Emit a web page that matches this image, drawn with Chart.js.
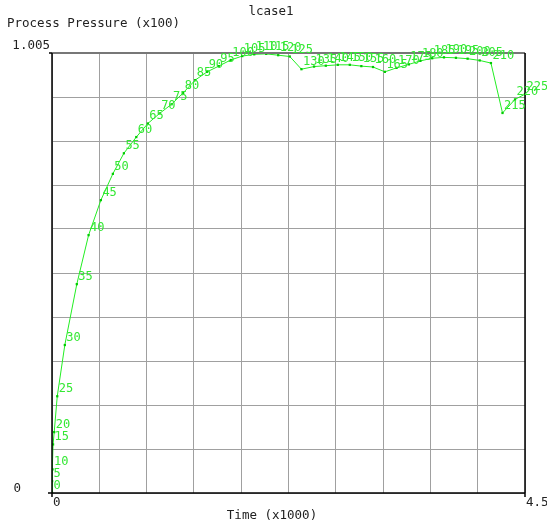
<!DOCTYPE html>
<html>
<head>
<meta charset="utf-8">
<title>lcase1</title>
<script src="https://cdn.jsdelivr.net/npm/chart.js@4"></script>
<style>
  html, body { margin: 0; padding: 0; background: #fff; }
  #plot { display: block; }
</style>
</head>
<body>
<canvas id="plot" width="547" height="525"></canvas>
<script>
/* ── lcase1: process pressure vs time ── */

// step labels drawn next to each point
const stepLabels = [
    0, 5, 10, 15, 20, 25, 30, 35, 40, 45,
    50, 55, 60, 65, 70, 75, 80, 85, 90, 95,
    100, 105, 110, 115, 120, 125, 130, 135, 140, 145,
    150, 155, 160, 165, 170, 175, 180, 185, 190, 195,
    200, 205, 210, 215, 220, 225,
];

// Time (x1000)
const timeVals = [
    0, 0.001, 0.005, 0.010, 0.021, 0.050, 0.122, 0.236, 0.348, 0.465,
    0.579, 0.684, 0.802, 0.912, 1.024, 1.138, 1.248, 1.362, 1.476, 1.586,
    1.700, 1.810, 1.924, 2.038, 2.152, 2.262, 2.373, 2.493, 2.605, 2.719,
    2.833, 2.943, 3.054, 3.167, 3.278, 3.395, 3.505, 3.617, 3.729, 3.843,
    3.954, 4.069, 4.176, 4.286, 4.405, 4.500,
];

// Process Pressure (x100)
const pressVals = [
    0, 0.027, 0.054, 0.111, 0.139, 0.221, 0.338, 0.477, 0.589, 0.669,
    0.729, 0.776, 0.813, 0.844, 0.867, 0.888, 0.914, 0.943, 0.962, 0.975,
    0.989, 0.998, 1.002, 1.003, 1.000, 0.997, 0.968, 0.974, 0.976, 0.978,
    0.978, 0.975, 0.973, 0.962, 0.971, 0.979, 0.987, 0.993, 0.995, 0.994,
    0.992, 0.988, 0.982, 0.868, 0.899, 0.911,
];

// axis ranges and grid divisions
const xRange = [0, 4.5];
const yRange = [0, 1.005];
const gridDivs = 10;
const xTickText = ['0', '4.5'];
const yTickText = ['0', '1.005'];

const FONT = '12.5px "DejaVu Sans Mono", "Liberation Mono", monospace';
const LABEL_FONT = '12px "DejaVu Sans Mono", "Liberation Mono", monospace';

const points = timeVals.map((t, i) => ({ x: t, y: pressVals[i] }));

function gridTicks(range) {
    const step = (range[1] - range[0]) / gridDivs;
    const out = [];
    for (let i = 0; i <= gridDivs; i++) out.push({ value: range[0] + i * step });
    return out;
}

// 框线、刻度文字、标题
const framePlugin = {
    id: 'frame',
    afterDraw(chart) {
        const { ctx, chartArea: a, scales } = chart;
        ctx.save();

        // frame
        ctx.strokeStyle = '#777';
        ctx.lineWidth = 2;
        ctx.beginPath();
        ctx.moveTo(a.left, a.top);
        ctx.lineTo(a.right, a.top);
        ctx.stroke();

        ctx.strokeStyle = '#000';
        ctx.lineWidth = 1.5;
        ctx.beginPath();
        ctx.moveTo(a.right, a.top);
        ctx.lineTo(a.right, a.bottom + 4);
        ctx.moveTo(a.left, a.top);
        ctx.lineTo(a.left, a.bottom + 4);
        ctx.moveTo(a.left - 4, a.bottom);
        ctx.lineTo(a.right, a.bottom);
        ctx.moveTo(a.left - 3, a.top);
        ctx.lineTo(a.left, a.top);
        ctx.stroke();

        // tick text
        ctx.fillStyle = '#222';
        ctx.font = FONT;
        ctx.textBaseline = 'middle';
        ctx.textAlign = 'left';
        ctx.fillText(xTickText[0], scales.x.getPixelForValue(xRange[0]) + 1, a.bottom + 10);
        ctx.fillText(xTickText[1], scales.x.getPixelForValue(xRange[1]) + 1, a.bottom + 10);
        ctx.textAlign = 'right';
        ctx.fillText(yTickText[0], 21, scales.y.getPixelForValue(yRange[0]) - 4);
        ctx.fillText(yTickText[1], a.left - 2, scales.y.getPixelForValue(yRange[1]) - 7);

        // titles
        ctx.textAlign = 'center';
        ctx.fillText('lcase1', 271, 12);
        ctx.fillText('Time (x1000)', 272, 516);
        ctx.textAlign = 'left';
        ctx.fillText('Process Pressure (x100)', 7, 24);

        // step labels on points
        const meta = chart.getDatasetMeta(0);
        ctx.fillStyle = '#33e833';
        ctx.font = LABEL_FONT;
        ctx.textBaseline = 'alphabetic';
        meta.data.forEach((pt, i) => {
            ctx.fillText(String(stepLabels[i]), pt.x + 1.5, pt.y - 4);
        });

        ctx.restore();
    },
};

new Chart(document.getElementById('plot'), {
    type: 'scatter',
    data: {
        datasets: [{
            data: points,
            showLine: true,
            borderColor: '#22ee22',
            borderWidth: 1,
            backgroundColor: '#00cc00',
            pointStyle: 'rect',
            pointRadius: 1.6,
            pointBorderWidth: 0,
            tension: 0,
        }],
    },
    options: {
        responsive: false,
        animation: false,
        devicePixelRatio: 1,
        layout: { padding: { left: 52, top: 53, right: 22, bottom: 32 } },
        plugins: {
            legend: { display: false },
            tooltip: { enabled: false },
        },
        scales: {
            x: {
                type: 'linear',
                min: xRange[0],
                max: xRange[1],
                afterBuildTicks: s => { s.ticks = gridTicks(xRange); },
                ticks: { display: false },
                grid: { color: '#a0a0a0', lineWidth: 1, drawTicks: false },
                border: { display: false },
            },
            y: {
                type: 'linear',
                min: yRange[0],
                max: yRange[1],
                afterBuildTicks: s => { s.ticks = gridTicks(yRange); },
                ticks: { display: false },
                grid: { color: '#a0a0a0', lineWidth: 1, drawTicks: false },
                border: { display: false },
            },
        },
    },
    plugins: [framePlugin],
});
</script>
</body>
</html>
